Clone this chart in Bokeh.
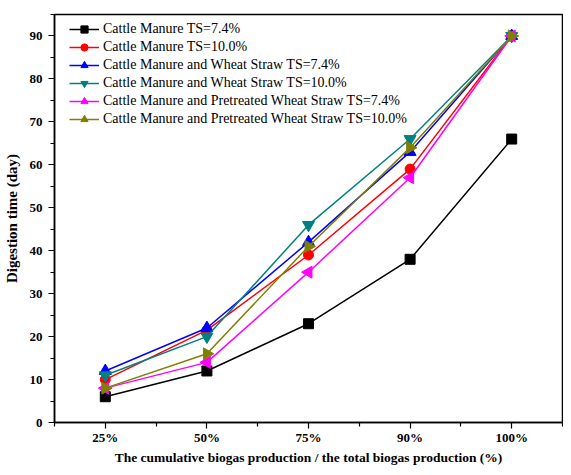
import numpy as np
from bokeh.plotting import figure
from bokeh.models import FixedTicker, Range1d, Legend
from bokeh.embed import file_html
from bokeh.resources import INLINE

categories = ["25%", "50%", "75%", "90%", "100%"]
cm_74 = [6, 12, 23, 38, 66]
cm_100 = [10, 21.5, 39, 59, 90]
cmws_74 = [12, 22, 42, 63, 90]
cmws_100 = [11, 20, 46, 66, 90]
cmpws_74 = [8, 14, 35, 57, 90]
cmpws_100 = [8, 16, 41, 64, 90]

series = [
    ("Cattle Manure TS=7.4%", cm_74, "#000000", "square", 0.0, 10),
    ("Cattle Manure TS=10.0%", cm_100, "#ff0000", "circle", 0.0, 10),
    ("Cattle Manure and Wheat Straw TS=7.4%", cmws_74, "#0000ff", "triangle", 0.0, 12),
    ("Cattle Manure and Wheat Straw TS=10.0%", cmws_100, "#008080", "inverted_triangle", 0.0, 12),
    ("Cattle Manure and Pretreated Wheat Straw TS=7.4%", cmpws_74, "#ff00ff", "triangle", np.pi / 2, 12),
    ("Cattle Manure and Pretreated Wheat Straw TS=10.0%", cmpws_100, "#808000", "triangle", -np.pi / 2, 12),
]

xs = list(range(1, len(categories) + 1))

p = figure(width=563, height=467, output_backend="svg", toolbar_location=None,
           x_range=Range1d(0.5, 5.5), y_range=Range1d(0, 95),
           min_border_left=3, min_border_right=1, min_border_top=14, min_border_bottom=0)
p.background_fill_color = "white"
p.border_fill_color = "white"
p.grid.visible = False
p.outline_line_color = "black"
p.outline_line_width = 1.5

font = "Liberation Serif"

xa = p.xaxis[0]
xa.ticker = FixedTicker(ticks=xs, minor_ticks=[0.5, 1.5, 2.5, 3.5, 4.5, 5.5])
xa.major_label_overrides = {i: c for i, c in zip(xs, categories)}
xa.axis_label = "The cumulative biogas production / the total biogas production (%)"

ya = p.yaxis[0]
ya.ticker = FixedTicker(ticks=list(range(0, 100, 10)), minor_ticks=list(range(0, 100, 5)))
ya.axis_label = "Digestion time (day)"

for ax in (xa, ya):
    ax.axis_line_width = 1.5
    ax.major_tick_out = 6
    ax.major_tick_in = 0
    ax.minor_tick_out = 4
    ax.minor_tick_in = 0
    ax.major_tick_line_width = 1.2
    ax.minor_tick_line_width = 1.2
    ax.major_label_text_font = font
    ax.major_label_text_font_style = "bold"
    ax.major_label_text_font_size = "13px"
    ax.axis_label_text_font = font
    ax.axis_label_text_font_style = "bold"
    ax.axis_label_text_color = "black"
    ax.major_label_text_color = "black"

ya.axis_label_text_font_size = "15px"
xa.axis_label_text_font_size = "13.5px"

xa.major_label_standoff = 1
xa.axis_label_standoff = 2
ya.major_label_standoff = 6
ya.axis_label_standoff = 7

items = []
for name, ys, color, marker, ang, sz in series:
    r1 = p.line(xs, ys, line_color=color, line_width=1.5)
    r2 = p.scatter(xs, ys, marker=marker, size=sz, angle=ang, fill_color=color, line_color=color)
    items.append((name, [r1, r2]))

legend = Legend(items=items, location=(15, 294))
legend.label_text_font = font
legend.label_text_font_size = "14px"
legend.label_text_color = "black"
legend.border_line_color = None
legend.background_fill_alpha = 0
legend.spacing = 0
legend.glyph_width = 30
legend.glyph_height = 18
legend.label_height = 18
legend.padding = 0
legend.margin = 0
legend.label_standoff = 4
p.add_layout(legend)

open("out.html", "w").write(file_html(p, INLINE))
